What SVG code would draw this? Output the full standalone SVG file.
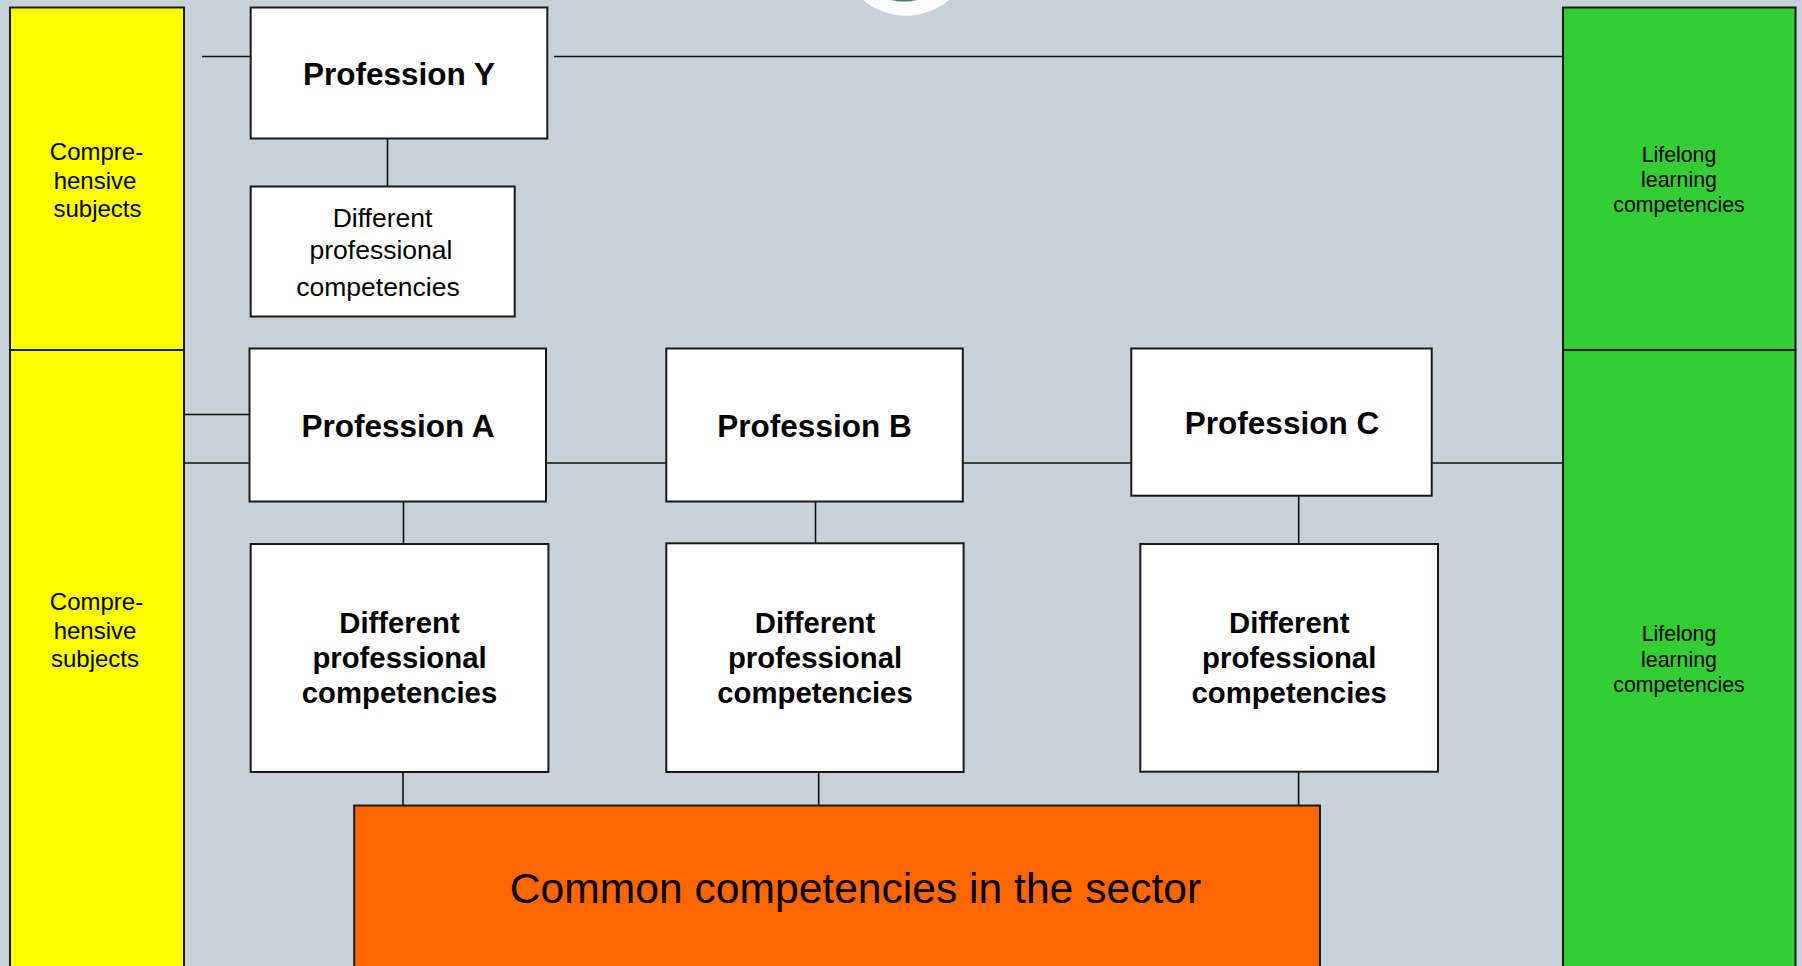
<svg xmlns="http://www.w3.org/2000/svg" width="1802" height="966" viewBox="0 0 1802 966">
<style>
.bg{fill:#C6D1D8}
.side{stroke:#1a1a1a;stroke-width:2}
.yel{fill:#FFFF00}
.grn{fill:#33CC33}
.box{fill:#FFFFFF;stroke:#1a1a1a;stroke-width:2}
.org{fill:#FF6600;stroke:#1a1a1a;stroke-width:2}
.ln{stroke:#111;stroke-width:1.6;fill:none}
text{font-family:"Liberation Sans",Arial,sans-serif;fill:#000;text-anchor:middle}
.t-side{font-size:24px}
.t-green{font-size:21.3px}
.t-prof{font-size:31.5px;font-weight:bold}
.t-diffb{font-size:29.3px;font-weight:bold}
.t-diff{font-size:26.5px}
.t-common{font-size:42.6px}
</style>
<rect class="bg" x="0" y="0" width="1802" height="966"/>
<g id="logo">
<circle cx="906" cy="-51" r="66.7" fill="#FFFFFF"/>
<circle cx="904" cy="-51" r="52.6" fill="#3F7D7B"/>
</g>
<g id="connectors">
<line class="ln" x1="202" y1="56.5" x2="250" y2="56.5"/>
<line class="ln" x1="554" y1="56.5" x2="1563" y2="56.5"/>
<line class="ln" x1="387.5" y1="139" x2="387.5" y2="186"/>
<line class="ln" x1="185" y1="414.5" x2="250" y2="414.5"/>
<line class="ln" x1="185" y1="463" x2="1563" y2="463"/>
<line class="ln" x1="403.5" y1="502" x2="403.5" y2="544"/>
<line class="ln" x1="815.5" y1="502" x2="815.5" y2="543"/>
<line class="ln" x1="1298.7" y1="496" x2="1298.7" y2="544"/>
<line class="ln" x1="403" y1="772" x2="403" y2="805"/>
<line class="ln" x1="818.7" y1="772" x2="818.7" y2="805"/>
<line class="ln" x1="1298.6" y1="772" x2="1298.6" y2="805"/>
</g>
<g id="comprehensive-top">
<rect class="yel side" x="10" y="7.5" width="174" height="342.5"/>
<text class="t-side" x="96.5" y="159.5">Compre-</text>
<text class="t-side" x="95" y="188.5">hensive</text>
<text class="t-side" x="97.5" y="216.5">subjects</text>
</g>
<g id="comprehensive-bottom">
<rect class="yel side" x="10" y="350" width="174" height="630"/>
<text class="t-side" x="96.5" y="610">Compre-</text>
<text class="t-side" x="95" y="638.5">hensive</text>
<text class="t-side" x="95" y="666.5">subjects</text>
</g>
<g id="lifelong-top">
<rect class="grn side" x="1563" y="7.5" width="232.5" height="342.5"/>
<text class="t-green" x="1679" y="161.5">Lifelong</text>
<text class="t-green" x="1679" y="186.5">learning</text>
<text class="t-green" x="1679" y="211.5">competencies</text>
</g>
<g id="lifelong-bottom">
<rect class="grn side" x="1563" y="350" width="232.5" height="630"/>
<text class="t-green" x="1679" y="640.5">Lifelong</text>
<text class="t-green" x="1679" y="666.5">learning</text>
<text class="t-green" x="1679" y="691.5">competencies</text>
</g>
<g id="profession-y">
<rect class="box" x="250.7" y="7.5" width="296.6" height="131"/>
<text class="t-prof" x="399" y="85">Profession Y</text>
</g>
<g id="diff-y">
<rect class="box" x="250.7" y="186.5" width="264" height="130"/>
<text class="t-diff" x="382.5" y="226.5">Different</text>
<text class="t-diff" x="381" y="258.5">professional</text>
<text class="t-diff" x="378" y="296">competencies</text>
</g>
<g id="profession-a">
<rect class="box" x="249.5" y="348.5" width="296.5" height="153"/>
<text class="t-prof" x="398" y="436.7">Profession A</text>
</g>
<g id="profession-b">
<rect class="box" x="666.3" y="348.5" width="296.5" height="153"/>
<text class="t-prof" x="814.5" y="436.7">Profession B</text>
</g>
<g id="profession-c">
<rect class="box" x="1131.3" y="348.5" width="300.4" height="147.2"/>
<text class="t-prof" x="1282" y="434">Profession C</text>
</g>
<g id="diff-a">
<rect class="box" x="250.7" y="544" width="297.7" height="228"/>
<text class="t-diffb" x="399.5" y="633.3">Different</text>
<text class="t-diffb" x="399.5" y="668.3">professional</text>
<text class="t-diffb" x="399.5" y="702.7">competencies</text>
</g>
<g id="diff-b">
<rect class="box" x="666.3" y="543.3" width="297.3" height="228.7"/>
<text class="t-diffb" x="815" y="632.7">Different</text>
<text class="t-diffb" x="815" y="668.3">professional</text>
<text class="t-diffb" x="815" y="702.7">competencies</text>
</g>
<g id="diff-c">
<rect class="box" x="1140.3" y="544" width="297.7" height="227.7"/>
<text class="t-diffb" x="1289.2" y="633.3">Different</text>
<text class="t-diffb" x="1289.2" y="668.3">professional</text>
<text class="t-diffb" x="1289.2" y="702.7">competencies</text>
</g>
<g id="common">
<rect class="org" x="354.2" y="805.5" width="965.8" height="180"/>
<text class="t-common" x="855.5" y="902.7">Common competencies in the sector</text>
</g>
</svg>
